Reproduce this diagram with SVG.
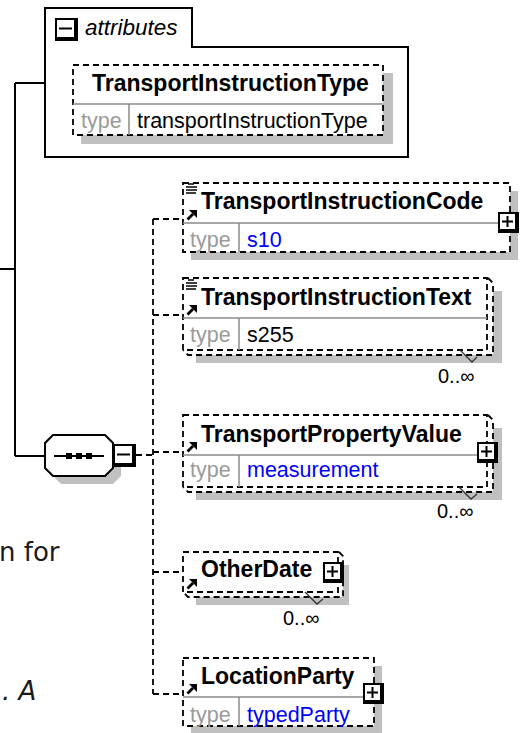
<svg xmlns="http://www.w3.org/2000/svg" width="522" height="733" viewBox="0 0 522 733">
<style>
.solid{fill:none;stroke:#000;stroke-width:2}
.dash{fill:none;stroke:#000;stroke-width:1.8;stroke-dasharray:6 4}
.box{fill:#fff;stroke:#000;stroke-width:1.8;stroke-dasharray:6 4}
.bk{fill:#fff;stroke:none}
.shadow{fill:#c0c0c0;stroke:none}
.div{stroke:#8c8c8c;stroke-width:1.5;fill:none}
.title{font-family:"Liberation Sans",Arial,sans-serif;font-weight:bold;font-size:23px;fill:#000}
.lbl{font-family:"Liberation Sans",Arial,sans-serif;font-size:21.5px;fill:#9a9a9a}
.val{font-family:"Liberation Sans",Arial,sans-serif;font-size:21.5px;fill:#000}
.link{fill:#0000ff}
.occ{font-family:"Liberation Sans",Arial,sans-serif;font-size:20px;fill:#000}
.tick{fill:none;stroke:#333;stroke-width:1.3}
.body{font-family:"DejaVu Sans",Verdana,sans-serif;font-size:26px;fill:#1a1a1a}
</style>
<defs>
<g id="plus">
<rect x="0" y="0" width="21" height="21" fill="#000"/>
<rect x="2" y="2" width="15" height="15" fill="#fff"/>
<path d="M4,9.5 H15 M9.5,4 V15" stroke="#000" stroke-width="2"/>
</g>
<g id="minus">
<rect x="0" y="0" width="23" height="23" fill="#000"/>
<rect x="2" y="2" width="17" height="17" fill="#fff"/>
<path d="M4,10.5 H17" stroke="#000" stroke-width="2"/>
</g>
<g id="ref">
<path d="M0.5,-0.5 L6,-6" stroke="#000" stroke-width="2.8"/>
<path d="M2,-10 H10 V-2 Z" fill="#000"/>
</g>
<g id="simple">
<path d="M3,1 H9 M1,4 H12 M1,7 H12 M1,10 H11" stroke="#000" stroke-width="1.5"/>
</g>
</defs>

<g id="connectors">
<path class="solid" d="M0,269 H15 M15,83 V456 M15,83 H45 M15,456 H45"/>
<path class="dash" d="M136,455 H153 M153,219 V694 M153,219 H185 M153,315 H185 M153,452 H185 M153,572 H185 M153,694 H185"/>
</g>

<g id="attributes">
<path d="M45,157 V8 H192 V47 H408 V157 Z" fill="#fff" stroke="#000" stroke-width="2"/>
<use href="#minus" x="55" y="18"/>
<text x="85" y="35" font-family="Liberation Sans, Arial, sans-serif" font-style="italic" font-size="22.5" fill="#000">attributes</text>
</g>

<g id="TransportInstructionType">
<rect class="shadow" x="81" y="73" width="312" height="71"/>
<rect class="box" x="73" y="65" width="310" height="70"/>
<path class="div" d="M73,104 H383 M129,104 V135"/>
<text class="title" x="92" y="91">TransportInstructionType</text>
<text class="lbl" x="81" y="128">type</text>
<text class="val" x="137" y="128">transportInstructionType</text>
</g>

<g id="sequence">
<polygon class="shadow" points="61,443 113,443 121,451 121,476 113,484 61,484 53,476 53,451"/>
<polygon points="53,435 105,435 113,443 113,468 105,476 53,476 45,468 45,443" fill="#fff" stroke="#000" stroke-width="2"/>
<path d="M54,456 H104" stroke="#000" stroke-width="2"/>
<rect x="66" y="453" width="6" height="6" fill="#000"/>
<rect x="76" y="453" width="6" height="6" fill="#000"/>
<rect x="86" y="453" width="6" height="6" fill="#000"/>
<use href="#minus" x="113" y="444"/>
</g>

<g id="TransportInstructionCode">
<rect class="shadow" x="191" y="191" width="327" height="69"/>
<rect class="box" x="183" y="183" width="327" height="69"/>
<path class="div" d="M183,223 H510 M239,223 V252"/>
<use href="#simple" x="185" y="183"/>
<use href="#ref" x="187" y="220"/>
<text class="title" x="201" y="209">TransportInstructionCode</text>
<text class="lbl" x="190" y="246.5">type</text>
<text class="val link" x="247" y="246.5">s10</text>
<use href="#plus" x="498" y="212"/>
</g>

<g id="TransportInstructionText">
<rect class="shadow" x="196" y="291" width="306" height="72"/>
<polygon class="bk" points="183,278 488,278 493,283 493,355 188,355 183,350"/>
<polyline class="dash" points="488,278 493,283 493,355 188,355 183,350"/>
<rect class="box" x="183" y="278" width="304" height="72"/>
<path class="div" d="M183,318 H487 M239,318 V350"/>
<use href="#simple" x="185" y="279"/>
<use href="#ref" x="187" y="315"/>
<text class="title" x="201" y="305">TransportInstructionText</text>
<text class="lbl" x="190" y="342">type</text>
<text class="val" x="247" y="342">s255</text>
<polyline class="tick" points="460,350 472,362 477,357"/>
<text class="occ" x="438" y="383">0..∞</text>
</g>

<g id="TransportPropertyValue">
<rect class="shadow" x="196" y="428" width="306" height="72"/>
<polygon class="bk" points="183,415 488,415 493,420 493,492 188,492 183,487"/>
<polyline class="dash" points="488,415 493,420 493,492 188,492 183,487"/>
<rect class="box" x="183" y="415" width="304" height="72"/>
<path class="div" d="M183,455 H487 M239,455 V487"/>
<use href="#ref" x="187" y="452"/>
<text class="title" x="201" y="442">TransportPropertyValue</text>
<text class="lbl" x="190" y="477">type</text>
<text class="val link" x="247" y="477">measurement</text>
<use href="#plus" x="477" y="442"/>
<polyline class="tick" points="459,487 471,499 477,494"/>
<text class="occ" x="437" y="518">0..∞</text>
</g>

<g id="OtherDate">
<rect class="shadow" x="196" y="565" width="153" height="40"/>
<polygon class="bk" points="183,552 339,552 343,556 343,597 188,597 183,592"/>
<polyline class="dash" points="339,552 343,556 343,597 188,597 183,592"/>
<rect class="box" x="183" y="552" width="155" height="40"/>
<use href="#ref" x="187" y="589"/>
<text class="title" x="201" y="577">OtherDate</text>
<use href="#plus" x="323" y="562"/>
<polyline class="tick" points="305,592 317,604 323,599"/>
<text class="occ" x="283" y="625">0..∞</text>
</g>

<g id="LocationParty">
<rect class="shadow" x="191" y="666" width="191" height="68"/>
<rect class="box" x="183" y="658" width="191" height="68"/>
<path class="div" d="M183,697 H374 M239,697 V726"/>
<use href="#ref" x="187" y="694"/>
<text class="title" x="201" y="684">LocationParty</text>
<text class="lbl" x="190" y="721.5">type</text>
<text class="val link" x="247" y="721.5">typedParty</text>
<use href="#plus" x="363" y="683"/>
</g>

<text class="body" x="-1" y="561">n for</text>
<text class="body" x="2" y="700" font-style="italic">. A</text>
</svg>
